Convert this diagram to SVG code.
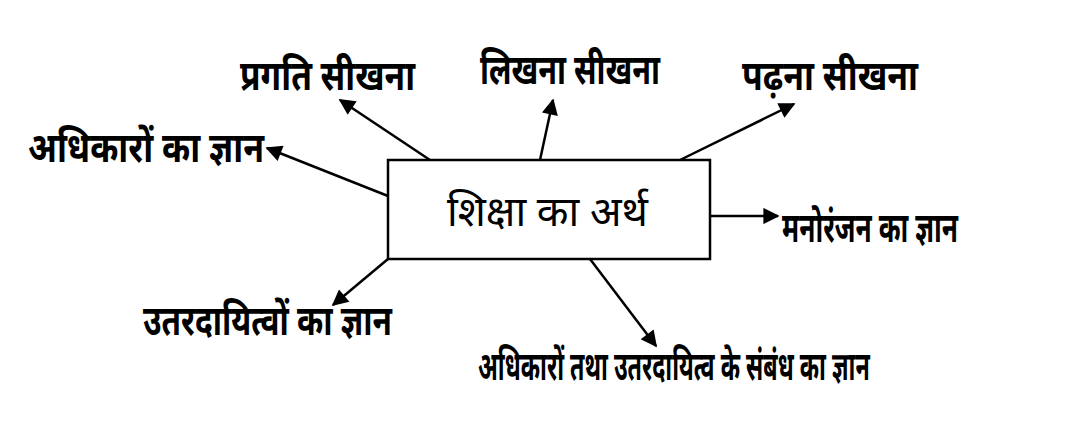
<svg xmlns="http://www.w3.org/2000/svg" width="1080" height="435" viewBox="0 0 1080 435">
<style>
.lbl{font-family:"Noto Sans Devanagari","Noto Sans",sans-serif;font-weight:bold;font-size:42px;fill:#000}
.ctr{font-family:"Noto Sans Devanagari","Noto Sans",sans-serif;font-weight:normal;font-size:42px;fill:#000}
.con{stroke:#000;stroke-width:2.5;fill:none;marker-end:url(#ah)}
</style>
<defs>
<marker id="ah" viewBox="0 0 10 10" refX="9" refY="5" markerWidth="8" markerHeight="6.5" markerUnits="strokeWidth" orient="auto">
<path d="M0,0 L10,5 L0,10 Z" fill="#000"/>
</marker>
</defs>
<rect width="1080" height="435" fill="#fff"/>
<g id="connectors">
<line class="con" x1="430" y1="160" x2="340" y2="100"/>
<line class="con" x1="388" y1="196" x2="267" y2="148"/>
<line class="con" x1="540" y1="160" x2="553" y2="100"/>
<line class="con" x1="680" y1="160" x2="794" y2="104"/>
<line class="con" x1="710" y1="216" x2="778" y2="216"/>
<line class="con" x1="388" y1="259" x2="333" y2="305"/>
<line class="con" x1="590" y1="259" x2="656" y2="346"/>
</g>
<g id="center">
<rect x="388" y="160" width="322" height="99" fill="#fff" stroke="#000" stroke-width="2.5"/>
<text class="ctr" x="447" y="226" textLength="201" lengthAdjust="spacingAndGlyphs">शिक्षा का अर्थ</text>
</g>
<g id="pragati"><text class="lbl" x="240" y="90" textLength="175" lengthAdjust="spacingAndGlyphs">प्रगति सीखना</text></g>
<g id="likhna"><text class="lbl" x="480" y="84" textLength="180" lengthAdjust="spacingAndGlyphs">लिखना सीखना</text></g>
<g id="padhna"><text class="lbl" x="742" y="90" textLength="176" lengthAdjust="spacingAndGlyphs">पढ़ना सीखना</text></g>
<g id="adhikar"><text class="lbl" x="28" y="162" textLength="236" lengthAdjust="spacingAndGlyphs">अधिकारों का ज्ञान</text></g>
<g id="manoranjan"><text class="lbl" x="782" y="242" textLength="176" lengthAdjust="spacingAndGlyphs">मनोरंजन का ज्ञान</text></g>
<g id="uttardayitva"><text class="lbl" x="143" y="335" textLength="249" lengthAdjust="spacingAndGlyphs">उतरदायित्वों का ज्ञान</text></g>
<g id="sambandh" transform="translate(478,380) scale(0.6,1)"><text class="lbl" x="0" y="0" style="font-size:40px" textLength="653" lengthAdjust="spacingAndGlyphs">अधिकारों तथा उतरदायित्व के संबंध का ज्ञान</text></g>
</svg>
